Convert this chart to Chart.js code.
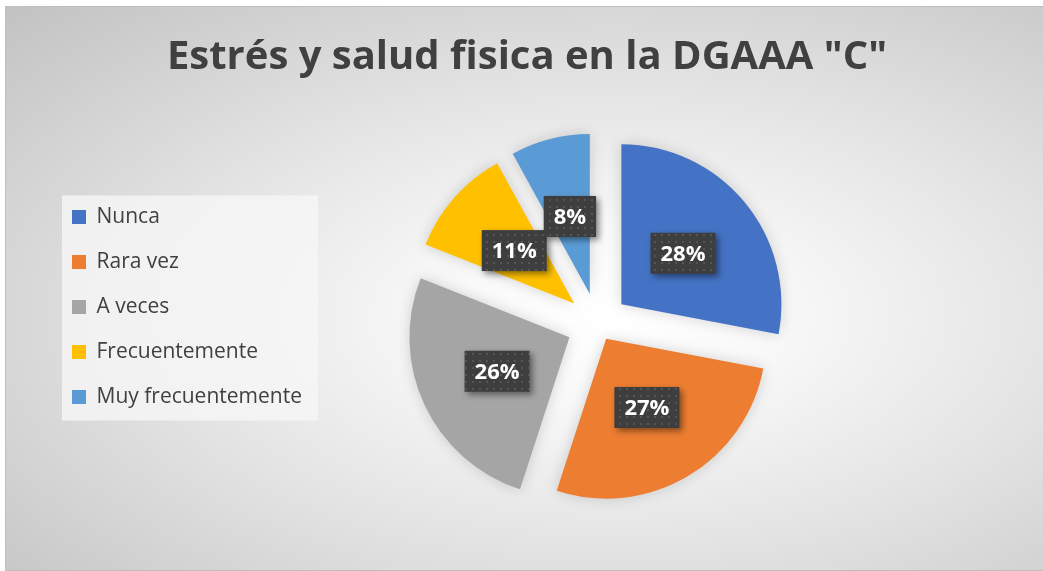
<!DOCTYPE html>
<html lang="es">
<head>
  <meta charset="UTF-8">
  <title>Estrés y salud fisica en la DGAAA "C"</title>
  <script src="https://cdn.jsdelivr.net/npm/chart.js"></script>
  <style>
    html, body { margin: 0; padding: 0; width: 1043px; height: 571px; overflow: hidden; background: #fff; }
    #frame {
      position: absolute; left: 5px; top: 6px; width: 1100px; height: 563px;
      border: 1px solid #bfbfbf;
      background: radial-gradient(ellipse farthest-corner at 55% 55%, #ffffff 0%, #f8f8f8 20%, #e4e4e4 52%, #c2c2c2 100%);
    }
    #wrap { position: absolute; left: 0; top: 0; width: 1043px; height: 571px; }
  </style>
</head>
<body>
<div id="frame"></div>
<div id="wrap"><canvas id="chart"></canvas></div>

<script>
  const categories = ['Nunca', 'Rara vez', 'A veces', 'Frecuentemente', 'Muy frecuentemente'];
  const percents = [28, 27, 26, 11, 8];
  const sliceColors = ['#4472C4', '#ED7D31', '#A5A5A5', '#FFC000', '#5B9BD5'];
  // how far each slice is pulled out of the pie (px)
  const explode = [31, 17, 31, 31, 31];

  // dotted dark fill for the value labels
  function makePattern(ctx) {
    const c = document.createElement('canvas');
    c.width = 7; c.height = 7;
    const p = c.getContext('2d');
    p.fillStyle = '#3e3e3e';
    p.fillRect(0, 0, 7, 7);
    p.fillStyle = '#555555';
    p.fillRect(3, 3, 2, 2);
    return ctx.createPattern(c, 'repeat');
  }

  const explodePlugin = {
    id: 'explode',
    afterLayout(chart) {
      // legend only reserves a narrow column, but its text may run wider
      const lg = chart.legend;
      if (lg) { lg.width = 300; lg.right = lg.left + 300; }
    },
    afterDatasetsUpdate(chart) {
      chart.getDatasetMeta(0).data.forEach((arc, i) => {
        const mid = (arc.startAngle + arc.endAngle) / 2;
        arc.x += Math.cos(mid) * explode[i];
        arc.y += Math.sin(mid) * explode[i];
      });
    },
    beforeDraw(chart) {
      // soft panel behind the legend
      const lg = chart.legend;
      if (!lg || !lg.legendHitBoxes.length) return;
      const hb = lg.legendHitBoxes;
      const left = hb[0].left - 10;
      const top = hb[0].top - 11;
      let right = 0;
      hb.forEach(h => { right = Math.max(right, h.left + h.width); });
      right += 16;
      const last = hb[hb.length - 1];
      const bottom = last.top + last.height + 13;
      const ctx = chart.ctx;
      ctx.save();
      ctx.fillStyle = 'rgba(246,246,246,0.8)';
      ctx.fillRect(left, top, right - left, bottom - top);
      ctx.restore();
    },
    beforeDatasetsDraw(chart) {
      const ctx = chart.ctx;
      ctx.save();
      ctx.shadowColor = 'rgba(0,0,0,0.16)';
      ctx.shadowBlur = 14;
    },
    afterDatasetsDraw(chart) {
      const ctx = chart.ctx;
      ctx.restore();
      const pattern = makePattern(ctx);
      ctx.save();
      ctx.font = 'bold 22px "Open Sans"';
      ctx.textAlign = 'center';
      ctx.textBaseline = 'middle';
      chart.getDatasetMeta(0).data.forEach((arc, i) => {
        const pos = arc.tooltipPosition();
        const txt = percents[i] + '%';
        const w = ctx.measureText(txt).width + 20;
        const h = 41;
        ctx.save();
        ctx.shadowColor = 'rgba(0,0,0,0.45)';
        ctx.shadowBlur = 6;
        ctx.shadowOffsetX = 3;
        ctx.shadowOffsetY = 3;
        ctx.fillStyle = pattern;
        ctx.fillRect(pos.x - w / 2, pos.y - h / 2, w, h);
        ctx.restore();
        ctx.fillStyle = '#ffffff';
        ctx.fillText(txt, pos.x, pos.y + 1);
      });
      ctx.restore();
    }
  };

  new Chart(document.getElementById('chart'), {
    type: 'pie',
    data: {
      labels: categories,
      datasets: [{
        data: percents,
        backgroundColor: sliceColors,
        borderWidth: 0,
        clip: false
      }]
    },
    options: {
      responsive: true,
      maintainAspectRatio: false,
      animation: false,
      radius: 160,
      layout: { padding: { left: 48, right: 37, top: 0, bottom: 105.5 } },
      plugins: {
        title: {
          display: true,
          text: 'Estrés y salud fisica en la DGAAA "C"',
          color: '#404040',
          font: { family: 'Open Sans', size: 40, weight: 'bold', lineHeight: 1.2 },
          padding: { top: 34, bottom: 100.5 }
        },
        legend: {
          position: 'left',
          align: 'start',
          fullSize: false,
          maxWidth: 141,
          labels: {
            boxWidth: 14,
            boxHeight: 14,
            padding: 24,
            color: '#404040',
            font: { family: 'Open Sans', size: 21 }
          }
        },
        tooltip: { enabled: false }
      }
    },
    plugins: [explodePlugin]
  });
</script>
</body>
</html>
